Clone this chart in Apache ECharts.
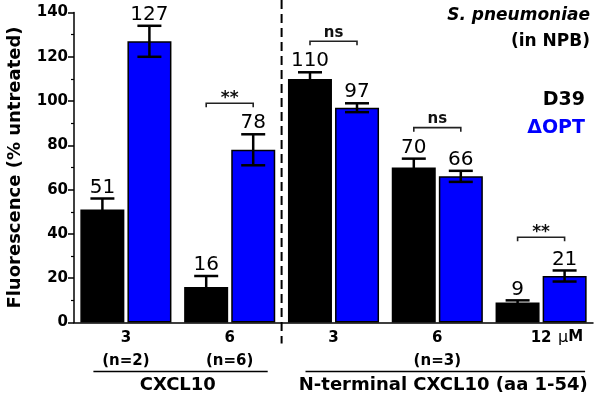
<!DOCTYPE html>
<html><head><meta charset="utf-8">
<script src="https://cdn.jsdelivr.net/npm/echarts@6/dist/echarts.min.js"></script>
<style>html,body{margin:0;padding:0;background:#fff}#c{width:600px;height:401px}</style>
</head><body><div id="c"></div>
<script>
const categories = ['3', '6', '3', '6', '12'];
const subLabels = ['(n=2)', '(n=6)', '', '(n=3)', ''];
const d39Values = [51, 16, 110, 70, 9];
const d39Err = [5, 5, 3, 4, 1];
const optValues = [127, 78, 97, 66, 21];
const optErr = [7, 7, 2, 2.5, 2.5];
const bracketCats = [1, 2, 3, 4];
const bracketHeights = [99, 127, 88, 38.5];
const bracketTexts = ['**', 'ns', 'ns', '**'];
const yTicks = [0, 20, 40, 60, 80, 100, 120, 140];
const groupNames = ['CXCL10', 'N-terminal CXCL10 (aa 1-54)'];
const unitMu = '\u03bc';
const unitM = 'M';
const speciesTitle = 'S. pneumoniae';
const mediumTitle = '(in NPB)';
const legendNames = ['D39', '\u0394OPT'];

const BLUE = '#0000FF';
const FONT = '"DejaVu Sans", "Liberation Sans", Arial, sans-serif';
const OFF = 23.5;

const chart = echarts.init(document.getElementById('c'), null, {renderer: 'canvas'});

function errRender(sign) {
  return function (params, api) {
    const i = api.value(0), v = api.value(1), e = api.value(2);
    const x = api.coord([i, 0])[0] + sign * OFF;
    const top = api.coord([i, v + e])[1];
    const bot = api.coord([i, v - e])[1];
    const cw = 12;
    const st = {stroke: '#000', lineWidth: 2.5};
    return {type: 'group', children: [
      {type: 'line', shape: {x1: x, y1: top, x2: x, y2: bot}, style: st},
      {type: 'line', shape: {x1: x - cw, y1: top, x2: x + cw, y2: top}, style: st},
      {type: 'line', shape: {x1: x - cw, y1: bot, x2: x + cw, y2: bot}, style: st},
      {type: 'text', x: x, y: top - 1, style: {text: String(v), fill: '#000', font: '20px ' + FONT, align: 'center', verticalAlign: 'bottom'}}
    ]};
  };
}

function bracketRender(params, api) {
  const i = api.value(0), h = api.value(1);
  const cx = api.coord([i, h]);
  const x1 = cx[0] - OFF, x2 = cx[0] + OFF, y = cx[1];
  const txt = bracketTexts[params.dataIndex];
  return {type: 'group', children: [
    {type: 'polyline', shape: {points: [[x1, y + 4], [x1, y], [x2, y], [x2, y + 4]]}, style: {stroke: '#222', lineWidth: 1.6, fill: null}},
    {type: 'text', x: cx[0], y: txt === '**' ? y + 4 : y - 1, style: {text: txt, fill: '#111', font: (txt === '**' ? 'bold 17px ' : 'bold 15px ') + FONT, align: 'center', verticalAlign: 'bottom'}}
  ]};
}

const option = {
  animation: false,
  backgroundColor: '#fff',
  grid: {left: 74, right: 7, top: 12.5, bottom: 78.5, containLabel: false, outerBoundsMode: 'none'},
  xAxis: {
    type: 'category',
    data: categories,
    boundaryGap: true,
    axisLine: {show: true, lineStyle: {color: '#000', width: 1.5}},
    axisTick: {show: false},
    axisLabel: {
      margin: 4,
      formatter: function (v, idx) { return subLabels[idx] ? v + '\n' + subLabels[idx] : v; },
      fontFamily: FONT, fontWeight: 'bold', fontSize: 15, color: '#000', lineHeight: 23
    }
  },
  yAxis: {
    type: 'value', min: 0, max: 140, interval: 20,
    name: 'Fluorescence (% untreated)',
    nameLocation: 'middle', nameGap: 50,
    nameTextStyle: {fontFamily: FONT, fontWeight: 'bold', fontSize: 18, color: '#000'},
    axisLine: {show: true, lineStyle: {color: '#000', width: 1.5}},
    axisTick: {show: true, length: 6, lineStyle: {color: '#000', width: 1.5}},
    minorTick: {show: true, splitNumber: 2, length: 3, lineStyle: {color: '#000', width: 1.2}},
    splitLine: {show: false},
    axisLabel: {margin: 6, fontFamily: FONT, fontWeight: 'bold', fontSize: 15, color: '#000',
      formatter: function (v) { return yTicks.indexOf(v) >= 0 ? String(v) : ''; }}
  },
  series: [
    {type: 'bar', name: legendNames[0], data: d39Values, barWidth: 44, barGap: '7%',
      itemStyle: {color: '#000', borderColor: '#000', borderWidth: 1.5}, z: 2},
    {type: 'bar', name: legendNames[1], data: optValues, barWidth: 44, barGap: '7%',
      itemStyle: {color: BLUE, borderColor: '#000', borderWidth: 1.5}, z: 2},
    {type: 'custom', renderItem: errRender(-1), data: d39Values.map((v, i) => [i, v, d39Err[i]]), z: 5, silent: true},
    {type: 'custom', renderItem: errRender(1), data: optValues.map((v, i) => [i, v, optErr[i]]), z: 5, silent: true},
    {type: 'custom', renderItem: bracketRender, data: bracketCats.map((c, k) => [c, bracketHeights[k]]), z: 5, silent: true}
  ]
};
chart.setOption(option);

const cx = categories.map((c, i) => chart.convertToPixel({xAxisIndex: 0}, i));
const y0 = chart.convertToPixel({yAxisIndex: 0}, 0);
const xDiv = (cx[1] + cx[2]) / 2;
const lineY = y0 + 49;
chart.setOption({graphic: [
  {type: 'line', shape: {x1: xDiv, y1: 0, x2: xDiv, y2: y0 + 21}, style: {stroke: '#000', lineWidth: 2, lineDash: [9, 5]}, z: 10},
  {type: 'line', shape: {x1: cx[0] - 32.5, y1: lineY, x2: cx[1] + 38, y2: lineY}, style: {stroke: '#000', lineWidth: 1.5}},
  {type: 'line', shape: {x1: cx[2] - 28, y1: lineY, x2: cx[4] + 44, y2: lineY}, style: {stroke: '#000', lineWidth: 1.5}},
  {type: 'text', x: (cx[0] + cx[1]) / 2, y: y0 + 63, style: {text: groupNames[0], font: 'bold 18px ' + FONT, fill: '#000', align: 'center', verticalAlign: 'middle'}},
  {type: 'text', x: cx[3] + 6, y: y0 + 63, style: {text: groupNames[1], font: 'bold 18px ' + FONT, fill: '#000', align: 'center', verticalAlign: 'middle'}},
  {type: 'text', x: cx[4] + 17, y: y0 + 15, style: {text: '{mu|' + unitMu + '}{m|' + unitM + '}', align: 'left', verticalAlign: 'middle',
    rich: {mu: {font: '16px ' + FONT, fill: '#000'}, m: {font: 'bold 15px ' + FONT, fill: '#000'}}}},
  {type: 'text', x: 590, y: 16, style: {text: speciesTitle, font: 'italic bold 17px ' + FONT, fill: '#000', align: 'right', verticalAlign: 'middle'}},
  {type: 'text', x: 590, y: 42, style: {text: mediumTitle, font: 'bold 17px ' + FONT, fill: '#000', align: 'right', verticalAlign: 'middle'}},
  {type: 'text', x: 585, y: 100, style: {text: legendNames[0], font: 'bold 19px ' + FONT, fill: '#000', align: 'right', verticalAlign: 'middle'}},
  {type: 'text', x: 585, y: 128, style: {text: legendNames[1], font: 'bold 19px ' + FONT, fill: BLUE, align: 'right', verticalAlign: 'middle'}}
]});
</script></body></html>
